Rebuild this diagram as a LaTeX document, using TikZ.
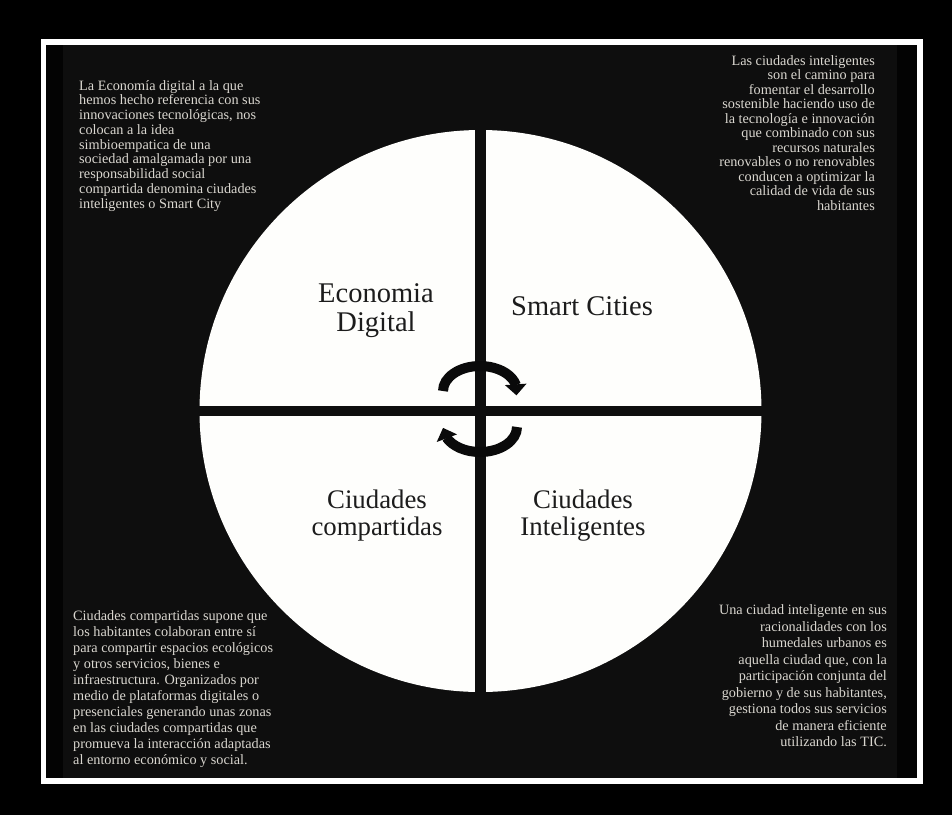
\documentclass[tikz,border=0pt]{standalone}
\usepackage{fontspec}
\setmainfont{Liberation Serif}
\usetikzlibrary{arrows.meta,bending}
\definecolor{bgdark}{HTML}{0E0E0E}
\definecolor{stripc}{HTML}{030303}
\definecolor{bodytxt}{HTML}{DAD7D0}
\definecolor{titletxt}{HTML}{1C1C1C}
\definecolor{discw}{HTML}{FEFEFC}
\definecolor{arrowc}{HTML}{0A0A0A}
\begin{document}
\begin{tikzpicture}[x=1pt,y=-1pt,
  bodyA/.style={text=bodytxt, inner sep=0pt, font=\fontsize{14.25}{14.75}\selectfont},
  bodyB/.style={text=bodytxt, inner sep=0pt, font=\fontsize{14.25}{14.5}\selectfont},
  bodyC/.style={text=bodytxt, inner sep=0pt, font=\fontsize{14.25}{16.05}\selectfont},
  bodyD/.style={text=bodytxt, inner sep=0pt, font=\fontsize{14.25}{16.5}\selectfont},
  titleA/.style={text=titletxt, inner sep=0pt, align=center, font=\fontsize{28.5}{28}\selectfont},
  titleB/.style={text=titletxt, inner sep=0pt, align=center, font=\fontsize{26.8}{26.5}\selectfont},
  bar/.style={draw=bgdark, line width=10.5pt},
  cycarrow/.style={draw=arrowc, line width=10pt, -{Triangle[width=21pt,length=11pt]}}
]
\useasboundingbox (0,0) rectangle (952,815);
\fill[black] (0,0) rectangle (952,815);
\fill[stripc] (46,45) rectangle (917,778);
\fill[bgdark] (63,45) rectangle (897,778);
\draw[white, line width=5.5pt] (43.5,42) rectangle (920,781);

% disc and dividing cross
\coordinate (ctr) at (480.5,411);
\fill[discw] (ctr) circle[radius=281];
\coordinate (vt) at (480.5,128);
\coordinate (vb) at (480.5,694);
\coordinate (hl) at (198,411);
\coordinate (hr) at (763,411);
\draw[bar] (vt) -- (vb);
\draw[bar] (hl) -- (hr);

% cycle arrows
\coordinate (topstart) at (443,391);
\coordinate (botstart) at (517,427);
\draw[cycarrow] (topstart) arc[start angle=180, end angle=370, x radius=37, y radius=25];
\draw[cycarrow] (botstart) arc[start angle=0, end angle=178, x radius=37, y radius=25];

% quadrant titles
\node[titleA, anchor=north] (econ) at (376,282.4) {\strut Economia\\Digital};
\node[titleA, anchor=base] (smart) at (582,315) {Smart Cities};
\node[titleB, anchor=north] (comp) at (377,489.45) {\strut Ciudades\\compartidas};
\node[titleB, anchor=north] (intel) at (583,489.45) {\strut Ciudades\\Inteligentes};

% descriptions
\node[bodyA, anchor=north west, align=left] (econtxt) at (79,79.7) {\strut La Economía digital a la que\\
hemos hecho referencia con sus\\
innovaciones tecnológicas, nos\\
colocan a la idea\\
simbioempatica de una\\
sociedad amalgamada por una\\
responsabilidad social\\
compartida denomina ciudades\\
inteligentes o Smart City};

\node[bodyB, anchor=north east, align=right] (smarttxt) at (875,54.85) {\strut Las ciudades inteligentes\\
son el camino para\\
fomentar el desarrollo\\
sostenible haciendo uso de\\
la tecnología e innovación\\
que combinado con sus\\
recursos naturales\\
renovables o no renovables\\
conducen a optimizar la\\
calidad de vida de sus\\
habitantes};

\node[bodyC, anchor=north west, align=left] (comptxt) at (73,608.8) {\strut Ciudades compartidas supone que\\
los habitantes colaboran entre sí\\
para compartir espacios ecológicos\\
y otros servicios, bienes e\\
infraestructura. Organizados por\\
medio de plataformas digitales o\\
presenciales generando unas zonas\\
en las ciudades compartidas que\\
promueva la interacción adaptadas\\
al entorno económico y social.};

\node[bodyD, anchor=north east, align=right] (inteltxt) at (887,603) {\strut Una ciudad inteligente en sus\\
racionalidades con los\\
humedales urbanos es\\
aquella ciudad que, con la\\
participación conjunta del\\
gobierno y de sus habitantes,\\
gestiona todos sus servicios\\
de manera eficiente\\
utilizando las TIC.};
\end{tikzpicture}
\end{document}
